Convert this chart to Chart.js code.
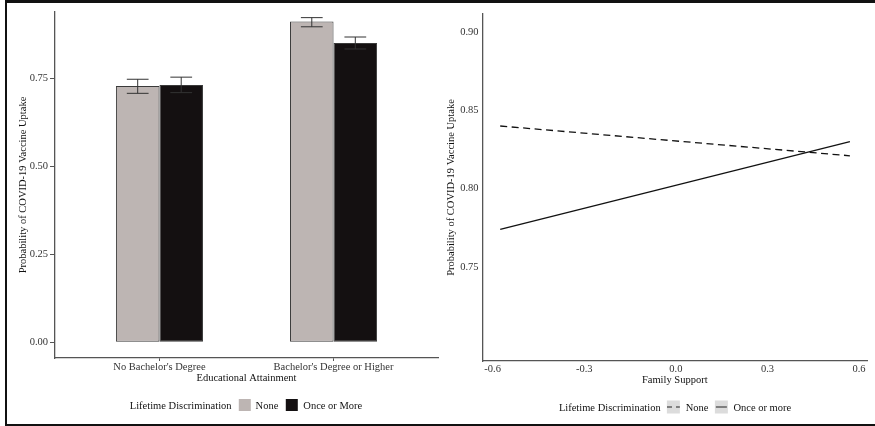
<!DOCTYPE html>
<html>
<head>
<meta charset="utf-8">
<script src="https://cdn.jsdelivr.net/npm/chart.js@4.4.1/dist/chart.umd.min.js"></script>
<style>
html,body{margin:0;padding:0;background:#fff;}
#wrap{position:relative;width:875px;height:426px;overflow:hidden;font-family:'Liberation Serif','Times New Roman',serif;background:#fff;}
#frame{position:absolute;left:5px;top:0;width:870px;height:426px;box-sizing:border-box;border-top:3px solid #111;border-left:2px solid #111;border-bottom:2px solid #111;}
#c1{position:absolute;left:0;top:0;}
#c2{position:absolute;left:440px;top:0;}
.legend{position:absolute;display:flex;align-items:center;font-size:10.5px;color:#111;white-space:nowrap;transform:translate(-50%,-50%);}
.sw{width:12px;height:12px;display:inline-block;box-sizing:border-box;}
.key{width:13px;height:13px;background:#dcdcdc;position:relative;display:inline-block;}
.key i{position:absolute;left:0;right:0;top:6px;height:1.4px;}
</style>
</head>
<body>
<div id="wrap">
  <div id="frame"></div>
  <canvas id="c1" width="440" height="426"></canvas>
  <canvas id="c2" width="435" height="426"></canvas>
  <div class="legend" id="leg1" style="left:246px;top:405px;">
    <span>Lifetime Discrimination</span>
    <span class="sw" style="margin-left:7px;background:#bdb5b3;"></span>
    <span style="margin-left:5px;">None</span>
    <span class="sw" style="margin-left:7px;background:#141011;"></span>
    <span style="margin-left:6px;">Once or More</span>
  </div>
  <div class="legend" id="leg2" style="left:675px;top:407px;">
    <span>Lifetime Discrimination</span>
    <span class="key" style="margin-left:6px;"><i style="background:repeating-linear-gradient(to right,#222 0 5px,transparent 5px 9px);"></i></span>
    <span style="margin-left:6px;">None</span>
    <span class="key" style="margin-left:6px;"><i style="background:#222;left:1px;right:1px;"></i></span>
    <span style="margin-left:6px;">Once or more</span>
  </div>
</div>
<script>
// ---- Left panel data ----
const categories = ["No Bachelor's Degree", "Bachelor's Degree or Higher"];
const categoryPos = [1, 2];
const noneValues = [0.728, 0.911];
const noneLower  = [0.707, 0.896];
const noneUpper  = [0.747, 0.922];
const onceValues = [0.731, 0.850];
const onceLower  = [0.709, 0.833];
const onceUpper  = [0.753, 0.867];
const leftYTicks = [0, 0.25, 0.5, 0.75];

// ---- Right panel data ----
const familySupport = [-0.575, 0.570];
const noneLine = [0.840, 0.821];
const onceLine = [0.774, 0.830];
const rightXTicks = [-0.6, -0.3, 0, 0.3, 0.6];
const rightYTicks = [0.75, 0.80, 0.85, 0.90];

const FONT = "'Liberation Serif','Times New Roman',serif";
const tickFont = {family: FONT, size: 10.5};
const titleFont = {family: FONT, size: 10.5};
const AXIS = '#555';

const errLows = [noneLower, onceLower];
const errHighs = [noneUpper, onceUpper];

const errPlugin = {
  id: 'errbars',
  afterDatasetsDraw(chart) {
    const ctx = chart.ctx;
    const y = chart.scales.y;
    ctx.save();
    ctx.strokeStyle = '#333';
    ctx.lineWidth = 1;
    chart.data.datasets.forEach((ds, di) => {
      const meta = chart.getDatasetMeta(di);
      meta.data.forEach((bar, i) => {
        const x = bar.x;
        const yl = y.getPixelForValue(errLows[di][i]);
        const yh = y.getPixelForValue(errHighs[di][i]);
        const hw = bar.width / 4;
        ctx.beginPath();
        ctx.moveTo(x, yh); ctx.lineTo(x, yl);
        ctx.moveTo(x - hw, yh); ctx.lineTo(x + hw, yh);
        ctx.moveTo(x - hw, yl); ctx.lineTo(x + hw, yl);
        ctx.stroke();
      });
    });
    ctx.restore();
  }
};

new Chart(document.getElementById('c1'), {
  type: 'bar',
  data: {
    datasets: [
      {label: 'None', data: categoryPos.map((x, i) => ({x, y: noneValues[i]})),
       backgroundColor: '#bdb5b3', borderColor: '#3a3a3a', borderWidth: 1, borderSkipped: false},
      {label: 'Once or More', data: categoryPos.map((x, i) => ({x, y: onceValues[i]})),
       backgroundColor: '#141011', borderColor: '#3a3a3a', borderWidth: 1, borderSkipped: false}
    ]
  },
  options: {
    responsive: false, animation: false, devicePixelRatio: 1,
    categoryPercentage: 0.5, barPercentage: 1,
    layout: {padding: {left: 8, top: 12, right: 2, bottom: 39.4}},
    plugins: {legend: {display: false}, tooltip: {enabled: false}},
    scales: {
      x: {
        type: 'linear', min: 0.4, max: 2.6, offset: false,
        afterBuildTicks: s => { s.ticks = categoryPos.map(v => ({value: v})); },
        afterFit: s => { s.height = 28.6; },
        grid: {display: true, drawOnChartArea: false, drawTicks: true, tickLength: 3, color: AXIS, offset: false},
        border: {display: true, color: AXIS, width: 1.3},
        ticks: {font: tickFont, color: '#333', padding: 0, maxRotation: 0, autoSkip: false,
                callback: v => categories[categoryPos.indexOf(v)]},
        title: {display: true, text: 'Educational Attainment', font: titleFont, color: '#111', padding: {top: 0, bottom: 2}}
      },
      y: {
        min: -0.0446, max: 0.938,
        afterBuildTicks: s => { s.ticks = leftYTicks.map(v => ({value: v})); },
        afterFit: s => { s.width = 47; },
        grid: {display: true, drawOnChartArea: false, drawTicks: true, tickLength: 5, color: AXIS},
        border: {display: true, color: AXIS, width: 1.3},
        ticks: {font: tickFont, color: '#333', padding: 2, callback: v => Number(v).toFixed(2)},
        title: {display: true, text: 'Probability of COVID-19 Vaccine Uptake', font: titleFont, color: '#111', padding: {top: 9, bottom: 0}}
      }
    }
  },
  plugins: [errPlugin]
});

new Chart(document.getElementById('c2'), {
  type: 'line',
  data: {
    datasets: [
      {label: 'None', data: familySupport.map((x, i) => ({x, y: noneLine[i]})),
       borderColor: '#111', borderWidth: 1.3, borderDash: [7, 4.5], pointRadius: 0, fill: false},
      {label: 'Once or more', data: familySupport.map((x, i) => ({x, y: onceLine[i]})),
       borderColor: '#111', borderWidth: 1.3, pointRadius: 0, fill: false}
    ]
  },
  options: {
    responsive: false, animation: false, devicePixelRatio: 1,
    layout: {padding: {left: 3, top: 14, right: 8, bottom: 37.7}},
    plugins: {legend: {display: false}, tooltip: {enabled: false}},
    scales: {
      x: {
        type: 'linear', min: -0.633, max: 0.626,
        afterBuildTicks: s => { s.ticks = rightXTicks.map(v => ({value: v})); },
        afterFit: s => { s.height = 27.3; },
        grid: {display: false, drawTicks: false, tickLength: 0},
        border: {display: true, color: AXIS, width: 1.3},
        ticks: {font: tickFont, color: '#333', padding: 1.7, maxRotation: 0, autoSkip: false,
                callback: v => Number(v).toFixed(1)},
        title: {display: true, text: 'Family Support', font: titleFont, color: '#111', padding: {top: 0, bottom: 2}}
      },
      y: {
        type: 'linear', min: 0.690, max: 0.9115,
        afterBuildTicks: s => { s.ticks = rightYTicks.map(v => ({value: v})); },
        afterFit: s => { s.width = 39.5; },
        grid: {display: false, drawTicks: false, tickLength: 0},
        border: {display: true, color: AXIS, width: 1.3},
        ticks: {font: tickFont, color: '#333', padding: 4, callback: v => Number(v).toFixed(2)},
        title: {display: true, text: 'Probability of COVID-19 Vaccine Uptake', font: titleFont, color: '#111', padding: {top: 2.2, bottom: 0}}
      }
    }
  }
});
</script>
</body>
</html>
